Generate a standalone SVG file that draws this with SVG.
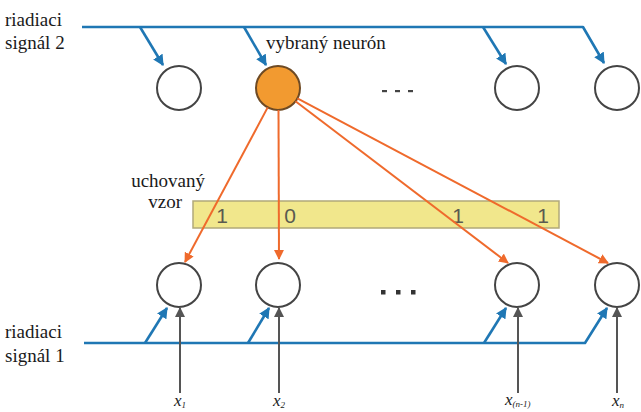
<svg xmlns="http://www.w3.org/2000/svg" width="641" height="412" viewBox="0 0 641 412">
  <style>
    .lbl { font-family: 'Liberation Serif', 'Times New Roman', serif; font-size: 19px; fill: #1a1a1a; }
    .var { font-family: 'Liberation Serif', 'Times New Roman', serif; font-style: italic; font-size: 17px; fill: #1a1a1a; }
    .sub { font-size: 9px; }
    .digit { font-family: 'Liberation Sans', Arial, sans-serif; font-size: 21px; fill: #5a5a50; text-anchor: middle; }
    .neuron { fill: #ffffff; stroke: #444444; stroke-width: 2; }
    .chosen { fill: #f29a30; stroke: #6e4a24; stroke-width: 2; }
    .ctl { fill: none; stroke: #1f77b4; stroke-width: 2.6; stroke-linejoin: round; }
    .inp { fill: none; stroke: #555555; stroke-width: 2; }
    .pat { fill: none; stroke: #ef6a2c; stroke-width: 2; }
  </style>
  <defs>
    <marker id="ahBlue" viewBox="0 0 10 10" refX="9" refY="5" markerWidth="11" markerHeight="11" markerUnits="userSpaceOnUse" orient="auto">
      <path d="M0,0 L10,5 L0,10 z" fill="#1f77b4"/>
    </marker>
    <marker id="ahGray" viewBox="0 0 10 10" refX="9" refY="5" markerWidth="10" markerHeight="10" markerUnits="userSpaceOnUse" orient="auto">
      <path d="M0,0 L10,5 L0,10 z" fill="#555555"/>
    </marker>
    <marker id="ahOrange" viewBox="0 0 10 10" refX="9" refY="5" markerWidth="10" markerHeight="10" markerUnits="userSpaceOnUse" orient="auto">
      <path d="M0,0 L10,5 L0,10 z" fill="#ef6a2c"/>
    </marker>
  </defs>

  <!-- labels -->
  <g id="labels">
    <text class="lbl" x="5" y="26">riadiaci</text>
    <text class="lbl" x="5" y="49">signál 2</text>
    <text class="lbl" x="5" y="338">riadiaci</text>
    <text class="lbl" x="5" y="362">signál 1</text>
    <text class="lbl" x="266" y="49">vybraný neurón</text>
    <text class="lbl" x="205" y="187" text-anchor="end">uchovaný</text>
    <text class="lbl" x="182" y="208" text-anchor="end">vzor</text>
  </g>

  <!-- stored pattern bar -->
  <g id="pattern">
    <rect x="193" y="201" width="366" height="27" fill="#f1e78c" stroke="#b1a979" stroke-width="1.5"/>
    <text class="digit" x="222" y="223">1</text>
    <text class="digit" x="290" y="223">0</text>
    <text class="digit" x="458" y="223">1</text>
    <text class="digit" x="543" y="223">1</text>
  </g>

  <!-- top layer -->
  <g id="top1"><circle class="neuron" cx="179" cy="88" r="22"/></g>
  <g id="top2"><circle class="chosen" cx="278" cy="88" r="22"/></g>
  <g id="top3"><circle class="neuron" cx="517" cy="88" r="22"/></g>
  <g id="top4"><circle class="neuron" cx="617" cy="88" r="22"/></g>
  <g id="topDots" fill="#444">
    <rect x="382" y="90" width="5" height="2.2"/>
    <rect x="395" y="90" width="5" height="2.2"/>
    <rect x="408" y="90" width="5" height="2.2"/>
  </g>

  <!-- bottom layer -->
  <g id="bot1"><circle class="neuron" cx="179" cy="285" r="22"/></g>
  <g id="bot2"><circle class="neuron" cx="278" cy="285" r="22"/></g>
  <g id="bot3"><circle class="neuron" cx="517" cy="285" r="22"/></g>
  <g id="bot4"><circle class="neuron" cx="617" cy="285" r="22"/></g>
  <g id="botDots" fill="#333">
    <rect x="381" y="290" width="4.5" height="4.5"/>
    <rect x="396" y="290" width="4.5" height="4.5"/>
    <rect x="411" y="290" width="4.5" height="4.5"/>
  </g>

  <!-- connectors -->
  <g id="connectors">
    <!-- control signal 2 -->
    <path class="ctl" d="M82,27 H583 L604,63" marker-end="url(#ahBlue)"/>
    <path class="ctl" d="M140,27 L163,65" marker-end="url(#ahBlue)"/>
    <path class="ctl" d="M244,27 L266,65" marker-end="url(#ahBlue)"/>
    <path class="ctl" d="M483,27 L506,64" marker-end="url(#ahBlue)"/>
    <!-- control signal 1 -->
    <path class="ctl" d="M84,343 H585 L607,308" marker-end="url(#ahBlue)"/>
    <path class="ctl" d="M145,343 L167,308" marker-end="url(#ahBlue)"/>
    <path class="ctl" d="M248,343 L269,308" marker-end="url(#ahBlue)"/>
    <path class="ctl" d="M484,343 L506,308" marker-end="url(#ahBlue)"/>
    <!-- inputs -->
    <path class="inp" d="M180,393 V308" marker-end="url(#ahGray)"/>
    <path class="inp" d="M279,393 V308" marker-end="url(#ahGray)"/>
    <path class="inp" d="M518,393 V308" marker-end="url(#ahGray)"/>
    <path class="inp" d="M617,393 V308" marker-end="url(#ahGray)"/>
    <!-- stored pattern weights -->
    <path class="pat" d="M267.7,107.4 L185,262" marker-end="url(#ahOrange)"/>
    <path class="pat" d="M278.5,110 L279,259" marker-end="url(#ahOrange)"/>
    <path class="pat" d="M295.5,101.3 L508,263" marker-end="url(#ahOrange)"/>
    <path class="pat" d="M297.4,98.3 L608,263" marker-end="url(#ahOrange)"/>
  </g>

  <!-- input names -->
  <g id="inputs">
    <text class="var" x="174" y="406">x<tspan class="sub" dy="2">1</tspan></text>
    <text class="var" x="273" y="406">x<tspan class="sub" dy="2">2</tspan></text>
    <text class="var" x="505" y="405">x<tspan class="sub" dy="2">(n-1)</tspan></text>
    <text class="var" x="612" y="406">x<tspan class="sub" dy="2">n</tspan></text>
  </g>
</svg>
